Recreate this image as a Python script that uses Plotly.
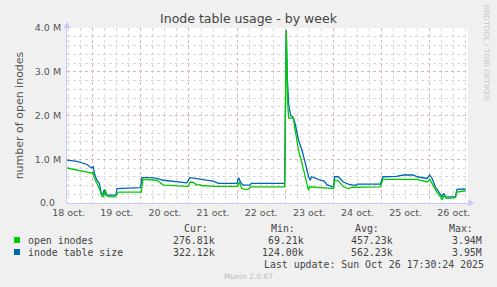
import pandas as pd
import plotly.graph_objects as go

# ---- data (hours since 2025-10-18 00:00, values in millions) ----
open_hours = [11.2, 13.7, 16.7, 21.7, 23.7, 24.3, 24.6, 26.0, 27.6, 28.5, 29.3, 30.3, 31.3, 32.6,
              35.1, 36.8, 48.3, 49.0, 56.0, 59.2, 65.9, 71.7, 72.5, 74.2, 75.9, 77.5, 78.0, 82.5,
              85.0, 96.3, 97.0, 98.3, 100.0, 101.5, 102.8, 119.7, 120.5, 121.2, 121.7, 124.1,
              124.6, 125.8, 126.6, 128.3, 130.0, 131.6, 132.1, 137.4, 140.9, 144.1, 144.6, 146.4,
              149.0, 151.5, 153.4, 167.4, 168.7, 185.7, 190.7, 192.0, 193.8, 195.6, 197.3, 198.2,
              199.3, 200.3, 204.8, 205.6, 209.9]
open_inodes = [0.80, 0.78, 0.75, 0.70, 0.68, 0.72, 0.60, 0.45, 0.30, 0.16, 0.14, 0.29, 0.16, 0.14,
               0.14, 0.25, 0.25, 0.54, 0.52, 0.41, 0.40, 0.38, 0.48, 0.47, 0.41, 0.42, 0.40, 0.38,
               0.38, 0.38, 0.48, 0.33, 0.31, 0.31, 0.37, 0.37, 3.94, 2.30, 1.94, 1.94,
               1.75, 1.44, 1.21, 0.91, 0.60, 0.29, 0.37, 0.36, 0.34, 0.33, 0.52, 0.51,
               0.37, 0.33, 0.36, 0.37, 0.54, 0.54, 0.48, 0.54, 0.38, 0.25, 0.14, 0.07,
               0.19, 0.10, 0.12, 0.25, 0.28]

size_hours = [11.2, 16.2, 21.2, 23.3, 24.3, 24.8, 26.1, 27.3, 28.3, 29.0, 29.8, 30.6, 35.6, 36.1,
              47.9, 48.5, 51.9, 55.6, 59.2, 64.1, 70.9, 72.5, 77.5, 84.0, 86.7, 96.0, 96.7, 98.0,
              99.1, 102.5, 103.0, 119.7, 120.5, 121.0, 121.7, 122.7, 124.0, 125.0, 126.6, 128.3,
              130.0, 131.6, 132.5, 133.0, 135.0, 137.4, 139.4, 140.8, 143.3, 144.1, 144.6, 146.4,
              149.0, 151.4, 154.0, 155.4, 155.9, 167.4, 168.7, 175.3, 179.0, 183.8, 185.7, 190.7,
              192.0, 193.2, 194.8, 196.5, 197.3, 198.2, 199.0, 199.8, 200.6, 204.8, 205.6, 209.9]
table_size = [0.98, 0.95, 0.88, 0.80, 0.84, 0.68, 0.52, 0.45, 0.22, 0.18, 0.31, 0.18, 0.18, 0.33,
              0.35, 0.58, 0.58, 0.57, 0.52, 0.50, 0.46, 0.58, 0.55, 0.50, 0.45, 0.45, 0.58, 0.45,
              0.41, 0.41, 0.45, 0.45, 3.95, 2.90, 2.25, 2.00, 1.95, 1.80, 1.44, 1.21,
              0.91, 0.60, 0.52, 0.60, 0.57, 0.52, 0.50, 0.42, 0.37, 0.37, 0.60, 0.60,
              0.48, 0.43, 0.41, 0.41, 0.43, 0.43, 0.60, 0.61, 0.64, 0.64, 0.60, 0.56,
              0.64, 0.56, 0.37, 0.25, 0.22, 0.14, 0.22, 0.14, 0.14, 0.14, 0.31, 0.32]

day_labels = ["18 oct.", "19 oct.", "20 oct.", "21 oct.", "22 oct.",
              "23 oct.", "24 oct.", "25 oct.", "26 oct."]
y_tickvals = [0, 1, 2, 3, 4]
y_ticktext = ["0.0\u00a0\u00a0", "1.0 M", "2.0 M", "3.0 M", "4.0 M"]

legend_names = ["open inodes", "inode table size"]
legend_cur = ["276.81k", "322.12k"]
legend_min = ["69.21k", "124.00k"]
legend_avg = ["457.23k", "562.23k"]
legend_max = ["3.94M", "3.95M"]
colors = ["#00CC00", "#0066B3"]

base = pd.Timestamp("2025-10-18 00:00")
x_open = base + pd.to_timedelta(open_hours, unit="h")
x_size = base + pd.to_timedelta(size_hours, unit="h")
x_range = [base + pd.Timedelta(hours=11.2), base + pd.Timedelta(hours=211.1)]
label_pos = [base + pd.Timedelta(days=i, hours=12) for i in range(len(day_labels))]

W, H = 497, 287
L, R, T, B = 67, 467.7, 28, 203

def px(xp):
    return (xp - L) / (R - L)

def py(yp):
    return (B - yp) / (B - T)

fig = go.Figure()
fig.add_trace(go.Scatter(x=x_size, y=table_size, mode="lines",
                         line=dict(color=colors[1], width=1.3), name=legend_names[1]))
fig.add_trace(go.Scatter(x=x_open, y=open_inodes, mode="lines",
                         line=dict(color=colors[0], width=1.3), name=legend_names[0]))
# invisible trace carrying the label axis
fig.add_trace(go.Scatter(x=x_range, y=[0, 0], xaxis="x2", mode="lines",
                         line=dict(width=0), hoverinfo="skip", showlegend=False, opacity=0))

grid_major = "#E8B0B0"
grid_minor = "#D8D8D8"
axis_col = "#C8C8F4"

fig.update_layout(
    width=W, height=H,
    margin=dict(l=L, r=W - R, t=T, b=H - B),
    paper_bgcolor="#F0F0F0", plot_bgcolor="#FFFFFF",
    showlegend=False,
    font=dict(family="DejaVu Sans", color="#555555"),
    title=dict(text="Inode table usage - by week", x=0.5, xref="container", xanchor="center",
               y=1 - 19 / H, yref="container", yanchor="middle",
               font=dict(family="DejaVu Sans", size=12.5, color="#444444")),
    xaxis=dict(type="date", range=x_range, tick0="2025-10-18", dtick=86400000,
               showticklabels=False,
               showgrid=True, gridcolor=grid_major, griddash="dot", gridwidth=1,
               minor=dict(dtick=6 * 3600000, tick0="2025-10-18", showgrid=True,
                          gridcolor=grid_minor, griddash="dot", gridwidth=1),
               showline=True, linecolor=axis_col, linewidth=1, zeroline=False, ticks=""),
    xaxis2=dict(type="date", range=x_range, overlaying="x", side="bottom", anchor="y",
                tickmode="array", tickvals=label_pos, ticktext=day_labels,
                showgrid=False, showline=False, zeroline=False, ticks="",
                ticklabelstandoff=2,
                tickfont=dict(size=9.5, color="#555555")),
    yaxis=dict(range=[0, 4], tickvals=y_tickvals, ticktext=y_ticktext,
               showgrid=True, gridcolor=grid_major, griddash="dot", gridwidth=1,
               minor=dict(dtick=0.2, showgrid=True, gridcolor=grid_minor, griddash="dot", gridwidth=1),
               showline=True, linecolor=axis_col, linewidth=1, zeroline=False,
               ticks="", ticklabelstandoff=3, tickfont=dict(size=9.5, color="#555555"),
               title=dict(text="number of open inodes", standoff=8,
                          font=dict(family="DejaVu Sans", size=11, color="#555555"))),
)

ann = []
# watermark
ann.append(dict(x=px(487), y=py(53), xref="paper", yref="paper", text="RRDTOOL / TOBI OETIKER",
                textangle=90, showarrow=False, font=dict(family="DejaVu Sans", size=7.5, color="#C8C8C8"),
                xanchor="center", yanchor="middle"))

mono = dict(family="DejaVu Sans Mono", size=9.9, color="#444444")

def text_at(x, y, s, anchor="left", font=mono):
    ann.append(dict(x=px(x), y=py(y), xref="paper", yref="paper", text=s, showarrow=False,
                    font=font, xanchor=anchor, yanchor="middle"))

text_at(181.7, 228, "Cur:")
text_at(269.3, 228, "Min:")
text_at(352.7, 228, "Avg:")
text_at(446.7, 228, "Max:")
row_y = [240, 252]
for i in range(2):
    y = row_y[i]
    text_at(26, y, legend_names[i])
    text_at(216.7, y, legend_cur[i], "right")
    text_at(306, y, legend_min[i], "right")
    text_at(394.3, y, legend_avg[i], "right")
    text_at(483.3, y, legend_max[i], "right")
text_at(261.7, 264, "Last update: Sun Oct 26 17:30:24 2025")
text_at(248, 276, "Munin 2.0.67", "center", dict(family="DejaVu Sans", size=7.5, color="#BBBBBB"))

shapes = []
for i in range(2):
    shapes.append(dict(type="rect", xref="paper", yref="paper",
                       x0=px(14), x1=px(20), y0=py(row_y[i] + 3), y1=py(row_y[i] - 3),
                       fillcolor=colors[i], line=dict(width=0)))
# axis arrow heads (pixel-positioned triangles)
def tri(pts):
    path = "M " + " L ".join(f"{px(a)},{py(b)}" for a, b in pts) + " Z"
    return dict(type="path", xref="paper", yref="paper", path=path,
                fillcolor=axis_col, line=dict(width=0))
shapes.append(tri([(468, 199.5), (474, 203), (468, 206.5)]))
shapes.append(tri([(63.5, 28), (67, 22), (70.5, 28)]))

fig.update_layout(annotations=ann, shapes=shapes)
fig.write_html("out.html")
